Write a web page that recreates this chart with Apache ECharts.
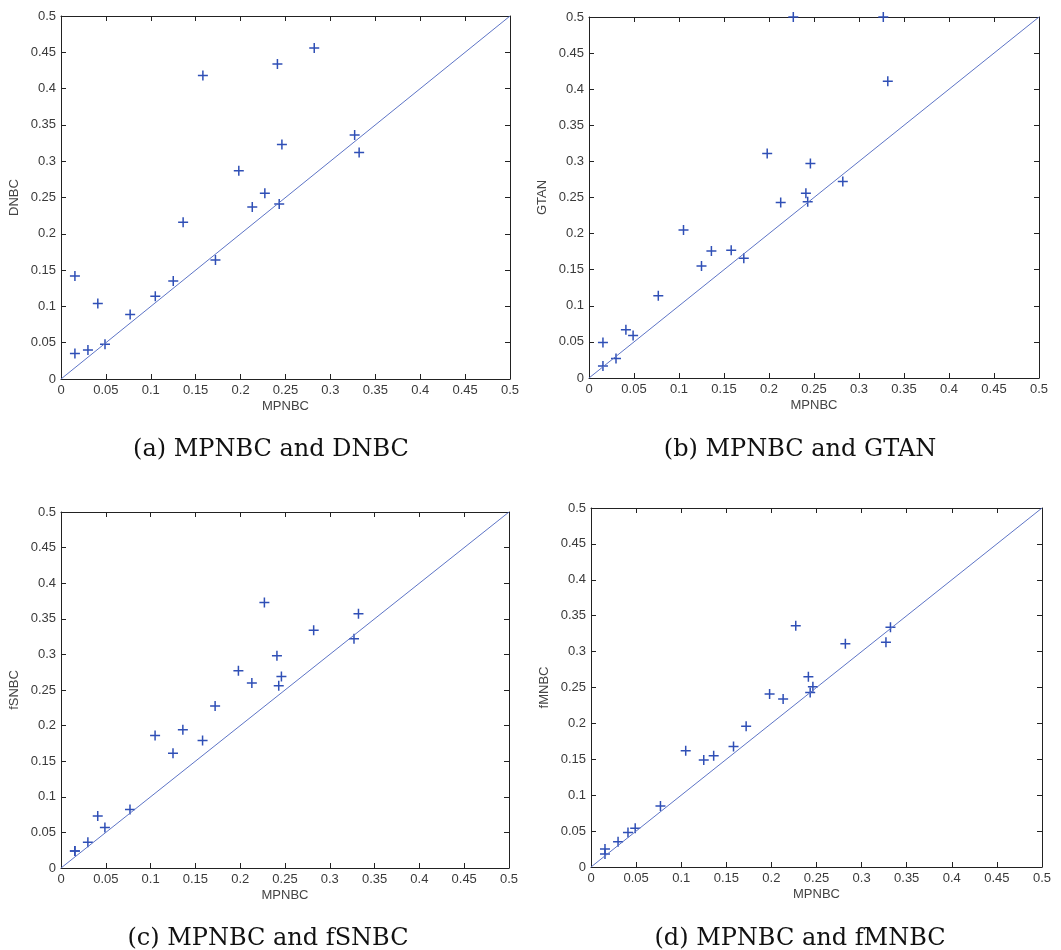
<!DOCTYPE html>
<html>
<head>
<meta charset="utf-8">
<script src="https://cdn.jsdelivr.net/npm/echarts@6/dist/echarts.min.js"></script>
<style>html,body{margin:0;padding:0;background:#fff}#c{width:1061px;height:950px}</style>
</head>
<body>
<div id="c"></div>
<script>
// Shared x values (MPNBC) for every panel
const MPNBC = [0.0155, 0.0155, 0.030, 0.041, 0.049, 0.077, 0.105, 0.125, 0.136, 0.158, 0.172, 0.198, 0.213, 0.227, 0.241, 0.243, 0.246, 0.282, 0.327, 0.332];
const DNBC  = [0.142, 0.035, 0.040, 0.104, 0.048, 0.089, 0.114, 0.135, 0.216, 0.418, 0.164, 0.287, 0.237, 0.256, 0.434, 0.241, 0.323, 0.456, 0.336, 0.312];
const GTAN  = [0.049, 0.0166, 0.027, 0.067, 0.059, 0.114, 0.205, 0.155, 0.176, 0.177, 0.166, 0.311, 0.243, 0.500, 0.256, 0.244, 0.297, 0.272, 0.500, 0.411];
const fSNBC = [0.024, 0.024, 0.036, 0.073, 0.057, 0.082, 0.186, 0.161, 0.194, 0.179, 0.2275, 0.277, 0.260, 0.373, 0.298, 0.256, 0.269, 0.334, 0.322, 0.357];
const fMNBC = [0.025, 0.018, 0.035, 0.048, 0.054, 0.085, 0.162, 0.149, 0.155, 0.168, 0.196, 0.241, 0.234, 0.336, 0.265, 0.243, 0.251, 0.311, 0.313, 0.334];
const DIAG = [0, 0.5];
const AXIS_MIN = 0, AXIS_MAX = 0.5, AXIS_STEP = 0.05;
const YNAMES = ['DNBC', 'GTAN', 'fSNBC', 'fMNBC'];
const YDATA = [DNBC, GTAN, fSNBC, fMNBC];
const CAPTIONS = ['(a) MPNBC and DNBC', '(b) MPNBC and GTAN', '(c) MPNBC and fSNBC', '(d) MPNBC and fMNBC'];

const grids = [
  {left: 61, top: 16, width: 449, height: 363},
  {left: 589, top: 17, width: 450, height: 361},
  {left: 61, top: 512, width: 448, height: 356},
  {left: 591, top: 508, width: 451, height: 359}
];
const captionPos = [[266, 433], [795, 433], [263, 922], [795, 922]];

const PLUS = 'path://M0,4.25 H10 V5.75 H0 Z M4.25,0 H5.75 V10 H4.25 Z';
const AX = '#222';
const LBL = {fontFamily: 'Liberation Sans', fontSize: 13, color: '#3a3a3a'};

const xAxis = [], yAxis = [], series = [], title = [];
grids.forEach((g, i) => {
  const common = {
    type: 'value', gridIndex: i, min: AXIS_MIN, max: AXIS_MAX, interval: AXIS_STEP,
    splitLine: {show: false},
    axisLine: {show: true, onZero: false, lineStyle: {color: AX, width: 1}},
    axisTick: {show: true, inside: true, length: 5, lineStyle: {color: AX, width: 1}}
  };
  xAxis.push(Object.assign({}, common, {
    position: 'bottom', name: 'MPNBC', nameLocation: 'middle', nameGap: 21,
    nameTextStyle: {fontFamily: 'Liberation Sans', fontSize: 13, color: '#444'},
    axisLabel: Object.assign({margin: 5}, LBL)
  }));
  xAxis.push(Object.assign({}, common, {position: 'top', axisLabel: {show: false}}));
  yAxis.push(Object.assign({}, common, {
    position: 'left', name: YNAMES[i], nameLocation: 'middle', nameGap: 40, nameRotate: 90,
    nameTextStyle: {fontFamily: 'Liberation Sans', fontSize: 13, color: '#444'},
    axisLabel: Object.assign({margin: 5}, LBL)
  }));
  yAxis.push(Object.assign({}, common, {position: 'right', axisLabel: {show: false}}));

  series.push({
    type: 'line', xAxisIndex: 2 * i, yAxisIndex: 2 * i,
    data: DIAG.map(v => [v, v]), symbol: 'none', silent: true,
    lineStyle: {color: '#5d74c6', width: 1}
  });
  series.push({
    type: 'scatter', xAxisIndex: 2 * i, yAxisIndex: 2 * i, clip: false,
    data: MPNBC.map((x, k) => [x, YDATA[i][k]]),
    symbol: PLUS, symbolSize: 10,
    itemStyle: {color: '#2f4fb6', opacity: 1}
  });
  title.push({
    text: CAPTIONS[i], left: captionPos[i][0], top: captionPos[i][1], textAlign: 'center',
    textStyle: {fontFamily: 'DejaVu Serif', fontWeight: 'normal', fontSize: 24, color: '#111'}
  });
});

const chart = echarts.init(document.getElementById('c'), null, {renderer: 'canvas'});
chart.setOption({animation: false, backgroundColor: '#fff', title, grid: grids, xAxis, yAxis, series});
</script>
</body>
</html>
